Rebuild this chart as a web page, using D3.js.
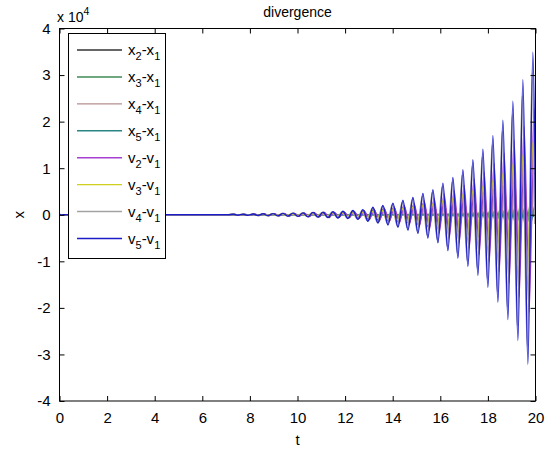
<!DOCTYPE html>
<html>
<head>
<meta charset="utf-8">
<script src="https://cdn.jsdelivr.net/npm/d3@7"></script>
<style>
  body { margin: 0; background: #fff; }
  text { font-family: "Liberation Sans", Arial, Helvetica, sans-serif; fill: #000; }
</style>
</head>
<body>
<svg id="chart" width="553" height="456"></svg>
<script>
// Sample times (t) of the oscillation extrema, shared by every series.
const knotTimes = [0, 0.08, 0.16, 7.08,
  7.29, 7.50, 7.71, 7.92, 8.13, 8.34, 8.55, 8.76, 8.97, 9.18,
  9.39, 9.60, 9.81, 10.02, 10.23, 10.44, 10.65, 10.86, 11.07, 11.28,
  11.49, 11.70, 11.91, 12.12, 12.33, 12.54, 12.75, 12.96, 13.17, 13.38,
  13.59, 13.80, 14.01, 14.22, 14.43, 14.64, 14.85, 15.06, 15.27, 15.48,
  15.69, 15.90, 16.11, 16.32, 16.53, 16.74, 16.95, 17.16, 17.37, 17.58,
  17.79, 18.00, 18.21, 18.42, 18.63, 18.84, 19.05, 19.26, 19.47, 19.68,
  19.89, 20.0];

// Differences relative to body 1, in units of 10^4.
const x2x1 = [0, 0, 0, 0,
  .01,-.01,.012,-.012,.015,-.015,.02,-.02,.025,-.025,.03,-.03,.035,-.035,.04,-.045,
  .05,-.05,.055,-.06,.055,-.06,.062,-.066,.072,-.08,.087,-.11,.12,-.14,.14,-.15,
  .16,-.17,.19,-.20,.22,-.24,.27,-.29,.26,-.28,.30,-.33,.34,-.38,.39,-.43,
  .44,-.48,.48,-.53,.54,-.59,.60,-.66,.68,-.75,.80,-.88,.96, .4];
const x3x1 = [0, 0, 0, 0,
  .001,-.001,.001,-.001,.001,-.001,.002,-.002,.002,-.002,.002,-.002,.003,-.003,.003,-.004,
  .004,-.004,.004,-.005,.005,-.006,.006,-.006,.007,-.008,.009,-.011,.013,-.014,.016,-.018,
  .02,-.022,.025,-.026,.03,-.032,.037,-.04,.043,-.048,.054,-.062,.064,-.074,.078,-.089,
  .094,-.10,.11,-.12,.14,-.15,.16,-.18,.20,-.22,.23,-.26,.28, -.05];
const x4x1 = [0, 0, 0, 0,
  .003,-.003,.004,-.004,.005,-.005,.006,-.006,.008,-.008,.009,-.009,.011,-.011,.012,-.014,
  .015,-.015,.017,-.018,.02,-.021,.023,-.024,.027,-.03,.033,-.042,.048,-.054,.06,-.066,
  .075,-.081,.093,-.099,.11,-.12,.14,-.15,.16,-.18,.20,-.23,.24,-.28,.29,-.33,
  .35,-.39,.42,-.47,.51,-.56,.61,-.68,.73,-.81,.87,-.96,1.05, .5];
const x5x1 = [0, 0, 0, 0,
  .001,-.001,.001,-.001,.001,-.001,.001,-.001,.002,-.002,.002,-.002,.002,-.002,.002,-.003,
  .003,-.003,.003,-.004,.004,-.004,.005,-.005,.005,-.006,.007,-.008,.01,-.011,.012,-.013,
  .015,-.016,.019,-.02,.022,-.024,.028,-.03,.032,-.036,.041,-.046,.048,-.056,.058,-.067,
  .071,-.078,.085,-.094,.10,-.11,.12,-.14,.15,-.16,.17,-.19,.21, .1];
const v2v1 = [0, 0, 0, 0,
  .006,-.006,.008,-.008,.01,-.01,.013,-.013,.016,-.016,.02,-.02,.023,-.023,.026,-.03,
  .033,-.033,.036,-.04,.042,-.046,.049,-.052,.06,-.065,.072,-.09,.10,-.12,.13,-.14,
  .16,-.18,.20,-.21,.24,-.26,.30,-.33,.35,-.39,.44,-.50,.52,-.60,.63,-.72,
  .77,-.85,.92,-1.01,1.10,-1.22,1.32,-1.46,1.59,-1.76,1.89,-2.10,2.27, .3];
const v3v1 = [0, 0, 0, 0,
  .005,-.005,.005,-.005,.007,-.007,.009,-.009,.011,-.011,.013,-.013,.016,-.016,.018,-.02,
  .022,-.022,.025,-.027,.029,-.031,.034,-.036,.04,-.045,.05,-.063,.072,-.08,.09,-.10,
  .11,-.12,.14,-.15,.17,-.18,.21,-.22,.24,-.27,.31,-.35,.36,-.42,.44,-.50,
  .53,-.58,.63,-.70,.76,-.85,.91,-1.01,1.10,-1.21,1.30,-1.44,1.57, 0];
const v4v1 = [0, 0, 0, 0,
  .009,-.009,.011,-.011,.013,-.013,.018,-.018,.022,-.022,.027,-.027,.031,-.031,.036,-.04,
  .044,-.045,.05,-.053,.058,-.062,.066,-.07,.08,-.088,.097,-.12,.14,-.16,.18,-.19,
  .22,-.24,.27,-.29,.33,-.35,.40,-.44,.48,-.53,.60,-.68,.70,-.82,.85,-.98,
  1.04,-1.14,1.24,-1.37,1.50,-1.65,1.79,-1.98,2.15,-2.38,2.55,-2.82,3.05, -.2];
const v5v1 = [.015, -.01, 0, 0,
  .01,-.01,.012,-.012,.015,-.015,.02,-.02,.025,-.025,.03,-.03,.035,-.035,.04,-.045,
  .05,-.05,.055,-.06,.065,-.07,.075,-.08,.09,-.10,.11,-.14,.16,-.18,.20,-.22,
  .25,-.27,.31,-.33,.37,-.40,.46,-.50,.54,-.60,.68,-.77,.80,-.93,.97,-1.11,
  1.18,-1.30,1.41,-1.56,1.70,-1.88,2.03,-2.25,2.44,-2.70,2.90,-3.21,3.49, .1];

// Phase lag of each series against the shared sample times (in t).
const seriesLag = [0.04, -0.08, 0.07, 0.1, 0.05, -0.04, -0.03, 0];
const seriesLabels = ["x_2-x_1", "x_3-x_1", "x_4-x_1", "x_5-x_1", "v_2-v_1", "v_3-v_1", "v_4-v_1", "v_5-v_1"];
const seriesValues = [x2x1, x3x1, x4x1, x5x1, v2v1, v3v1, v4v1, v5v1];
const seriesColors = ["#333333", "#3f8a57", "#b58e8e", "#2b8585", "#a63fd2", "#cfcf1f", "#a3a3a3", "#1c1cc8"];

const xTicks = [0, 2, 4, 6, 8, 10, 12, 14, 16, 18, 20];
const yTicks = [-4, -3, -2, -1, 0, 1, 2, 3, 4];

const svg = d3.select("#chart");
const L = 59.5, R = 535.5, T = 28.5, B = 401;

const x = d3.scaleLinear().domain([0, 20]).range([L, R]);
const y = d3.scaleLinear().domain([-4, 4]).range([B, T]);

svg.append("defs").append("clipPath").attr("id", "plotClip")
  .append("rect").attr("x", L).attr("y", T).attr("width", R - L).attr("height", B - T);

// Series
const line = d3.line()
  .x(d => x(d.t))
  .y(d => y(d.v))
  .curve(d3.curveMonotoneX);

const plot = svg.append("g").attr("clip-path", "url(#plotClip)");
seriesValues.forEach((vals, i) => {
  const pts = vals.map((v, k) => ({ t: knotTimes[k] + seriesLag[i], v }));
  plot.append("path")
    .datum(pts)
    .attr("fill", "none")
    .attr("stroke", seriesColors[i])
    .attr("stroke-width", 1.4)
    .attr("stroke-linejoin", "round")
    .attr("d", line);
});

// Axes (ticks pointing inward on all four sides)
const fontSize = 15;
const plain = d => String(d);
const styleAxis = g => {
  g.select(".domain").remove();
  g.selectAll(".tick line").attr("stroke", "#000");
  g.selectAll(".tick text").attr("font-size", fontSize).attr("fill", "#000");
};
svg.append("g").attr("transform", `translate(0,${B})`)
  .call(d3.axisBottom(x).tickValues(xTicks).tickSizeInner(-5).tickSizeOuter(0).tickPadding(11).tickFormat(plain))
  .call(styleAxis);
svg.append("g").attr("transform", `translate(${L},0)`)
  .call(d3.axisLeft(y).tickValues(yTicks).tickSizeInner(-5).tickSizeOuter(0).tickPadding(9).tickFormat(plain))
  .call(styleAxis);
svg.append("g").attr("transform", `translate(0,${T})`)
  .call(d3.axisTop(x).tickValues(xTicks).tickSizeInner(-5).tickSizeOuter(0).tickFormat(""))
  .call(styleAxis);
svg.append("g").attr("transform", `translate(${R},0)`)
  .call(d3.axisRight(y).tickValues(yTicks).tickSizeInner(-5).tickSizeOuter(0).tickFormat(""))
  .call(styleAxis);

svg.append("rect").attr("x", L).attr("y", T).attr("width", R - L).attr("height", B - T)
  .attr("fill", "none").attr("stroke", "#000").attr("stroke-width", 1);

// Titles
svg.append("text").attr("x", (L + R) / 2).attr("y", 17).attr("text-anchor", "middle")
  .attr("font-size", 14).text("divergence");
svg.append("text").attr("x", (L + R) / 2).attr("y", 445).attr("text-anchor", "middle")
  .attr("font-size", fontSize).text("t");
svg.append("text").attr("transform", `translate(19,${y(0)}) rotate(-90)`).attr("text-anchor", "middle")
  .attr("dy", "0.35em").attr("font-size", fontSize).text("x");
const expo = svg.append("text").attr("x", 57).attr("y", 22).attr("font-size", 14);
expo.append("tspan").text("x 10");
expo.append("tspan").attr("dy", -7).attr("font-size", 10.5).text("4");

// Legend
const lg = svg.append("g");
lg.append("rect").attr("x", 68.5).attr("y", 33.5).attr("width", 97).attr("height", 225)
  .attr("fill", "#fff").attr("stroke", "#000").attr("stroke-width", 1);
const rowY = d3.scaleLinear().domain([0, 7]).range([50, 238.5]);
seriesLabels.forEach((lab, i) => {
  const cy = rowY(i);
  lg.append("line").attr("x1", 77).attr("x2", 122).attr("y1", cy).attr("y2", cy)
    .attr("stroke", seriesColors[i]).attr("stroke-width", 1.4);
  const t = lg.append("text").attr("x", 128).attr("y", cy + 5).attr("font-size", fontSize);
  // base letters with lowered subscripts, e.g. x₂-x₁
  let shift = 0;
  lab.split(/(_\d)/).filter(s => s.length).forEach(part => {
    if (part.startsWith("_")) {
      t.append("tspan").attr("dy", 5 - shift).attr("font-size", 11).text(part.slice(1));
      shift = 5;
    } else {
      t.append("tspan").attr("dy", -shift).text(part);
      shift = 0;
    }
  });
});
</script>
</body>
</html>
